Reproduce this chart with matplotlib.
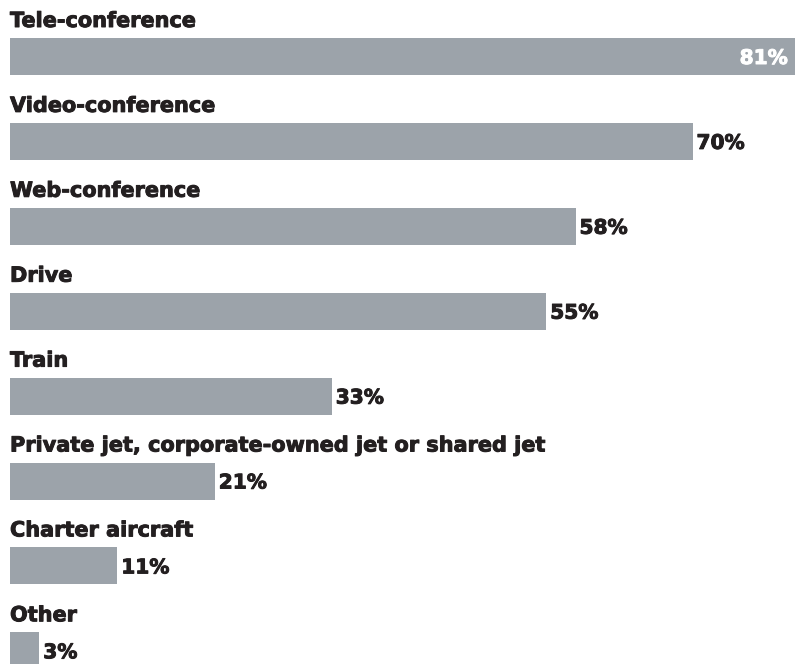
import matplotlib
matplotlib.use("Agg")
import matplotlib.pyplot as plt
import matplotlib.patheffects as pe

categories = [
    "Tele-conference",
    "Video-conference",
    "Web-conference",
    "Drive",
    "Train",
    "Private jet, corporate-owned jet or shared jet",
    "Charter aircraft",
    "Other",
]
values = [81, 70, 58, 55, 33, 21, 11, 3]
value_labels = ["81%", "70%", "58%", "55%", "33%", "21%", "11%", "3%"]

BAR_COLOR = "#9ca3aa"
TEXT_COLOR = "#231f20"
FONT = ["DejaVu Sans"]

W, H, DPI = 795, 664, 100
fig = plt.figure(figsize=(W / DPI, H / DPI), dpi=DPI)
fig.patch.set_facecolor("white")

left_px = 10
ax = fig.add_axes([left_px / W, 0, (W - left_px) / W, 1])
ax.set_axis_off()

px_per_unit_x = 9.75          # pixels per percentage point
row_px = 84.9                 # vertical pitch of rows
first_center_px = 56.5
bar_h = 37 / row_px

ax.set_xlim(0, (W - left_px) / px_per_unit_x)
ax.set_ylim((H - first_center_px) / row_px, -first_center_px / row_px)

ys = list(range(len(categories)))
ax.barh(ys, values, height=bar_h, color=BAR_COLOR, left=0, linewidth=0)


def heavy(color):
    # thicken the bold face a little so it reads as a black weight
    return [pe.withStroke(linewidth=0.7, foreground=color)]


gap = 4 / px_per_unit_x
inner_gap = 12 / px_per_unit_x
label_off = bar_h / 2 + 11 / row_px
for y, cat, v, lab in zip(ys, categories, values, value_labels):
    ax.text(0, y - label_off, cat, ha="left", va="baseline",
            fontsize=15, fontweight="bold", family=FONT, color=TEXT_COLOR,
            path_effects=heavy(TEXT_COLOR))
    if v == max(values):
        ax.text(v - inner_gap, y, lab, ha="right", va="center_baseline",
                fontsize=14.5, fontweight="bold", family=FONT, color="white",
                path_effects=heavy("white"))
    else:
        ax.text(v + gap, y, lab, ha="left", va="center_baseline",
                fontsize=14.5, fontweight="bold", family=FONT, color=TEXT_COLOR,
                path_effects=heavy(TEXT_COLOR))

fig.savefig("out.png", dpi=DPI, facecolor="white")
